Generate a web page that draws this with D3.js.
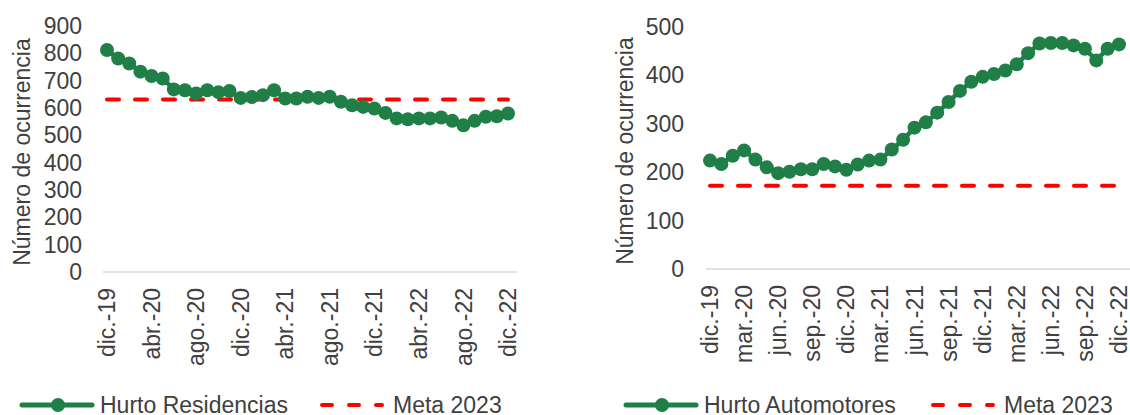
<!DOCTYPE html>
<html lang="es">
<head>
<meta charset="UTF-8">
<title>Hurto Residencias / Hurto Automotores</title>
<script src="https://d3js.org/d3.v7.min.js"></script>
<style>
    body { margin: 0; background: #fff; }
    text { font-family: "Liberation Sans", Arial, sans-serif; fill: #404040; }
</style>
</head>
<body>
<svg id="viz" width="1130" height="415"></svg>

<script>
    // months dic.-19 .. dic.-22 (37 points)
    var meses = ['dic.-19', 'ene.-20', 'feb.-20', 'mar.-20', 'abr.-20', 'may.-20', 'jun.-20', 'jul.-20',
        'ago.-20', 'sep.-20', 'oct.-20', 'nov.-20', 'dic.-20', 'ene.-21', 'feb.-21', 'mar.-21',
        'abr.-21', 'may.-21', 'jun.-21', 'jul.-21', 'ago.-21', 'sep.-21', 'oct.-21', 'nov.-21',
        'dic.-21', 'ene.-22', 'feb.-22', 'mar.-22', 'abr.-22', 'may.-22', 'jun.-22', 'jul.-22',
        'ago.-22', 'sep.-22', 'oct.-22', 'nov.-22', 'dic.-22'];

    var residencias = [812, 781, 763, 733, 717, 708, 668, 665, 653, 665, 658, 662, 637, 640, 647,
        665, 635, 635, 641, 637, 641, 623, 610, 604, 598, 582, 562, 559, 562, 562, 565, 553, 537,
        553, 568, 570, 580];
    var metaResidencias = 631;

    var automotores = [224, 217, 234, 245, 226, 210, 198, 201, 206, 206, 217, 212, 205, 216, 224,
        226, 247, 267, 292, 303, 323, 345, 368, 387, 397, 403, 410, 423, 446, 466, 467, 467, 462,
        455, 431, 455, 464];
    var metaAutomotores = 172;

    var ticksResidencias = [0, 100, 200, 300, 400, 500, 600, 700, 800, 900];
    var ticksAutomotores = [0, 100, 200, 300, 400, 500];

    var green = '#1f7f46';
    var red = '#ff0000';
    var fs = '23px';
    var svg = d3.select('#viz');

    function drawChart(cfg) {
        var g = svg.append('g');
        var x = d3.scaleLinear().domain([0, meses.length - 1]).range([cfg.x0, cfg.x1]);
        var y = d3.scaleLinear().domain([0, cfg.max]).range([cfg.yBottom, cfg.yTop]);

        // baseline
        g.append('line')
            .attr('x1', cfg.x0 - 4).attr('x2', cfg.axisEnd)
            .attr('y1', y(0)).attr('y2', y(0))
            .attr('stroke', '#d9d9d9').attr('stroke-width', 1.5);

        // y tick labels
        g.selectAll('.ytick').data(cfg.yTicks).enter()
            .append('text')
            .attr('x', cfg.yLabelX)
            .attr('y', function (d) { return y(d); })
            .attr('dy', '0.35em')
            .attr('text-anchor', 'end')
            .style('font-size', fs)
            .text(function (d) { return d; });

        // y title
        g.append('text')
            .attr('transform', 'translate(' + cfg.titleX + ',' + ((y(0) + y(cfg.max)) / 2 + 3) + ') rotate(-90)')
            .attr('dy', '0.35em')
            .attr('text-anchor', 'middle')
            .style('font-size', fs)
            .text('Número de ocurrencia');

        // x tick labels
        var idx = d3.range(0, meses.length, cfg.step);
        g.selectAll('.xtick').data(idx).enter()
            .append('text')
            .attr('transform', function (i) {
                return 'translate(' + x(i) + ',' + (y(0) + 16) + ') rotate(-90)';
            })
            .attr('dy', '0.35em')
            .attr('text-anchor', 'end')
            .style('font-size', fs)
            .text(function (i) { return meses[i]; });

        // meta line
        g.append('line')
            .attr('x1', x(0)).attr('x2', x(meses.length - 1))
            .attr('y1', y(cfg.meta)).attr('y2', y(cfg.meta))
            .attr('stroke', red).attr('stroke-width', 4)
            .attr('stroke-linecap', 'round')
            .attr('stroke-dasharray', '12,16');

        // series
        var line = d3.line()
            .x(function (d, i) { return x(i); })
            .y(function (d) { return y(d); });
        g.append('path')
            .datum(cfg.values)
            .attr('d', line)
            .attr('fill', 'none')
            .attr('stroke', green)
            .attr('stroke-width', 4.5);
        g.selectAll('.pt').data(cfg.values).enter()
            .append('circle')
            .attr('cx', function (d, i) { return x(i); })
            .attr('cy', function (d) { return y(d); })
            .attr('r', 7)
            .attr('fill', green);

        // legend
        var ly = 405;
        var lg = svg.append('g');
        lg.append('line')
            .attr('x1', cfg.legX).attr('x2', cfg.legX + 70)
            .attr('y1', ly).attr('y2', ly)
            .attr('stroke', green).attr('stroke-width', 5).attr('stroke-linecap', 'round');
        lg.append('circle')
            .attr('cx', cfg.legX + 36).attr('cy', ly).attr('r', 7).attr('fill', green);
        lg.append('text')
            .attr('x', cfg.legX + 78).attr('y', 413)
            .style('font-size', fs)
            .text(cfg.name);
        lg.append('line')
            .attr('x1', cfg.legMeta + 6).attr('x2', cfg.legMeta + 66)
            .attr('y1', ly).attr('y2', ly)
            .attr('stroke', red).attr('stroke-width', 4)
            .attr('stroke-linecap', 'round')
            .attr('stroke-dasharray', '10,17');
        lg.append('text')
            .attr('x', cfg.legMeta + 77).attr('y', 413)
            .style('font-size', fs)
            .text('Meta 2023');
    }

    drawChart({
        values: residencias, meta: metaResidencias, max: 900, yTicks: ticksResidencias,
        x0: 107, x1: 508, axisEnd: 517, yBottom: 272, yTop: 26,
        yLabelX: 82, titleX: 22, step: 4,
        name: 'Hurto Residencias', legX: 22, legMeta: 316
    });

    drawChart({
        values: automotores, meta: metaAutomotores, max: 500, yTicks: ticksAutomotores,
        x0: 710, x1: 1119, axisEnd: 1130, yBottom: 269, yTop: 27,
        yLabelX: 684, titleX: 625, step: 3,
        name: 'Hurto Automotores', legX: 626, legMeta: 927
    });
</script>
</body>
</html>
